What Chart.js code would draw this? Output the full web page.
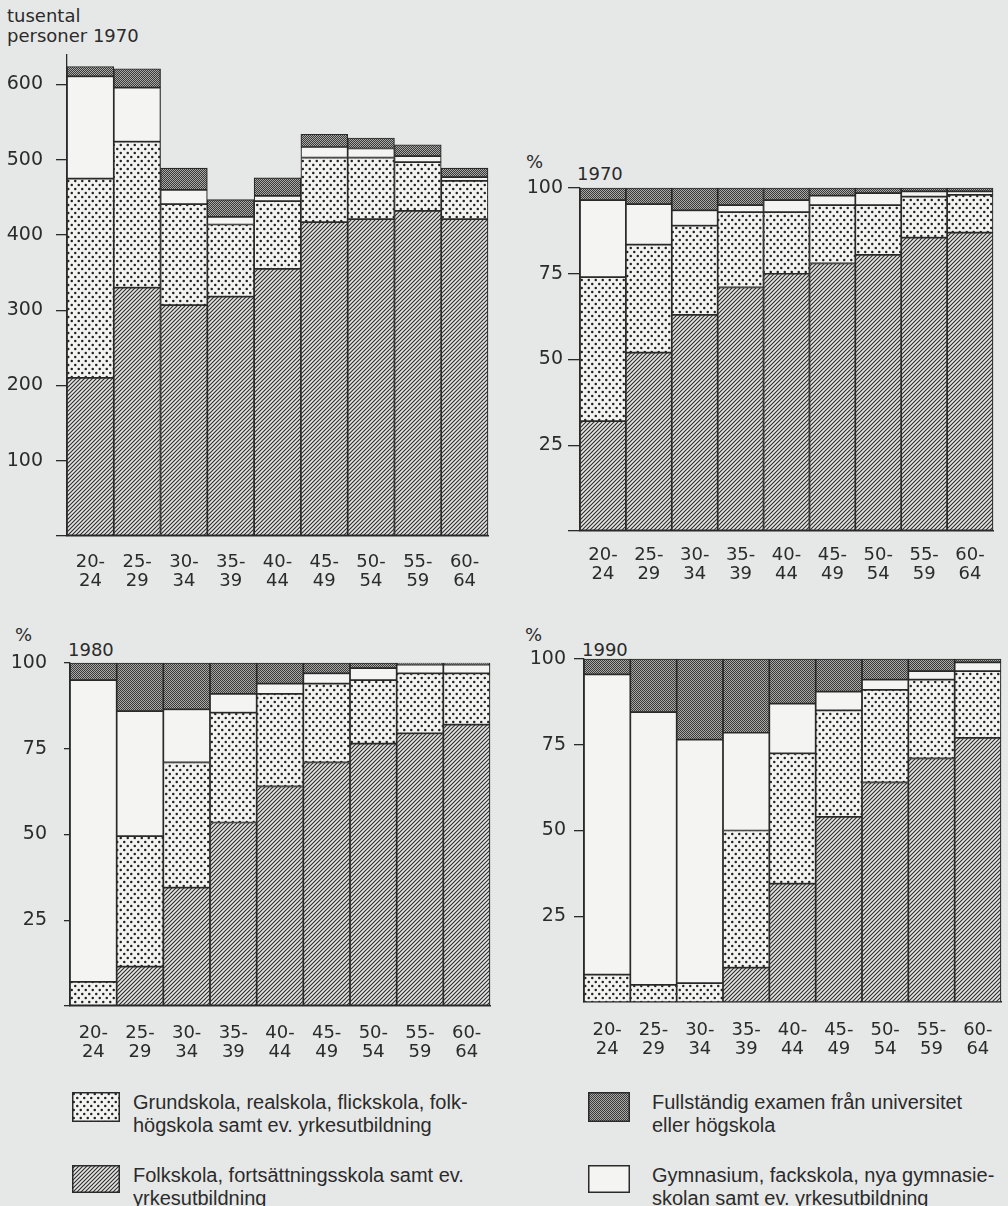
<!DOCTYPE html>
<html>
<head>
<meta charset="utf-8">
<script src="https://cdn.jsdelivr.net/npm/chart.js@4.4.1/dist/chart.umd.min.js"></script>
<style>
body { margin:0; background:#e6e8e7; width:1008px; height:1206px; position:relative; overflow:hidden;
       font-family:"DejaVu Sans", sans-serif; color:#2b2b2b; }
.box { position:absolute; }
.t { position:absolute; font-size:18px; line-height:20px; white-space:nowrap; }
.leg { position:absolute; font-family:"Liberation Sans", Arial, sans-serif; font-size:20px; line-height:23px; white-space:nowrap; }
.sw { position:absolute; }
</style>
</head>
<body>

<div class="t" style="left:7px;top:6px">tusental</div>
<div class="t" style="left:7px;top:26px">personer 1970</div>
<div class="t" style="left:526px;top:152px">%</div>
<div class="t" style="left:577px;top:164px">1970</div>
<div class="t" style="left:15px;top:625px">%</div>
<div class="t" style="left:68px;top:640px">1980</div>
<div class="t" style="left:525px;top:625px">%</div>
<div class="t" style="left:582px;top:640px">1990</div>

<div class="box" style="left:0;top:31px"><canvas id="c1" width="500" height="580"></canvas></div>
<div class="box" style="left:510px;top:150px"><canvas id="c2" width="498" height="450"></canvas></div>
<div class="box" style="left:0;top:620px"><canvas id="c3" width="500" height="440"></canvas></div>
<div class="box" style="left:510px;top:620px"><canvas id="c4" width="498" height="440"></canvas></div>

<canvas class="sw" id="s1" width="48" height="30" style="left:72px;top:1092px"></canvas>
<canvas class="sw" id="s2" width="48" height="28" style="left:72px;top:1165px"></canvas>
<canvas class="sw" id="s3" width="42" height="30" style="left:588px;top:1092px"></canvas>
<canvas class="sw" id="s4" width="42" height="28" style="left:588px;top:1165px"></canvas>
<div class="leg" style="left:133px;top:1091px">Grundskola, realskola, flickskola, folk-<br>högskola samt ev. yrkesutbildning</div>
<div class="leg" style="left:133px;top:1164px">Folkskola, fortsättningsskola samt ev.<br>yrkesutbildning</div>
<div class="leg" style="left:652px;top:1091px">Fullständig examen från universitet<br>eller högskola</div>
<div class="leg" style="left:652px;top:1164px">Gymnasium, fackskola, nya gymnasie-<br>skolan samt ev. yrkesutbildning</div>

<script>
const ageGroups = [['20-','24'],['25-','29'],['30-','34'],['35-','39'],['40-','44'],['45-','49'],['50-','54'],['55-','59'],['60-','64']];
const countTicks = [0, 100, 200, 300, 400, 500, 600];
const pctTicks = [0, 25, 50, 75, 100];

// 1970, tusental personer
const folk1970n  = [210, 330, 307, 318, 355, 417, 421, 432, 421];
const grund1970n = [265, 194, 134, 96, 90, 86, 82, 65, 51];
const gym1970n   = [136, 72, 19, 10, 7, 14, 12, 8, 5];
const univ1970n  = [13, 25, 29, 23, 24, 17, 14, 15, 12];

// 1970, procent
const folk1970  = [32, 52, 63, 71, 75, 78, 80.5, 85.5, 87];
const grund1970 = [42, 31.5, 26, 22, 18, 17, 14.5, 12, 11];
const gym1970   = [22.5, 11.8, 4.5, 2, 3.5, 2.8, 3.5, 1.5, 1];
const univ1970  = [3.5, 4.7, 6.5, 5, 3.5, 2.2, 1.5, 1, 1];

// 1980, procent
const folk1980  = [0, 11.5, 34.5, 53.5, 64, 71, 76.5, 79.5, 82];
const grund1980 = [7, 38, 36.5, 32, 27, 23, 18.5, 17.5, 15];
const gym1980   = [88, 36.5, 15.5, 5.5, 3, 3, 3.5, 2.5, 2.5];
const univ1980  = [5, 14, 13.5, 9, 6, 3, 1.5, 0.5, 0.5];

// 1990, procent
const folk1990  = [0, 0, 0, 10, 34.5, 54, 64, 71, 77];
const grund1990 = [8, 5, 5.5, 40, 38, 31, 27, 23, 19.5];
const gym1990   = [87.5, 79.5, 71, 28.5, 14.5, 5.5, 3, 2.5, 2.5];
const univ1990  = [4.5, 15.5, 23.5, 21.5, 13, 9.5, 6, 3.5, 1];

const ink = '#2a2a2a';

function tile(w, h, draw) {
    const c = document.createElement('canvas');
    c.width = w; c.height = h;
    draw(c.getContext('2d'));
    return c;
}

const tiles = {
    folk: tile(4, 4, g => {
        g.fillStyle = '#e4e5e3'; g.fillRect(0, 0, 4, 4);
        g.strokeStyle = '#2c2c2c'; g.lineWidth = 1.1;
        g.beginPath();
        g.moveTo(-1, 5); g.lineTo(5, -1);
        g.moveTo(-1, 1); g.lineTo(1, -1);
        g.moveTo(3, 5); g.lineTo(5, 3);
        g.stroke();
    }),
    grund: tile(7, 8, g => {
        g.fillStyle = '#f3f4f2'; g.fillRect(0, 0, 7, 8);
        g.fillStyle = '#222';
        g.beginPath(); g.arc(1.75, 2, 1.25, 0, Math.PI * 2); g.fill();
        g.beginPath(); g.arc(5.25, 6, 1.25, 0, Math.PI * 2); g.fill();
    }),
    gym: tile(2, 2, g => { g.fillStyle = '#f4f5f3'; g.fillRect(0, 0, 2, 2); }),
    univ: tile(2, 2, g => {
        g.fillStyle = '#a9a9a7'; g.fillRect(0, 0, 2, 2);
        g.fillStyle = '#3a3a3a'; g.fillRect(0, 0, 1, 1); g.fillRect(1, 1, 1, 1);
    })
};

function patterns(ctx) {
    return {
        folk: ctx.createPattern(tiles.folk, 'repeat'),
        grund: ctx.createPattern(tiles.grund, 'repeat'),
        gym: ctx.createPattern(tiles.gym, 'repeat'),
        univ: ctx.createPattern(tiles.univ, 'repeat')
    };
}

function makeChart(id, series, o) {
    const ctx = document.getElementById(id).getContext('2d');
    const p = patterns(ctx);
    const xfont = { family: 'DejaVu Sans', size: 18, lineHeight: 1.1 };
    const yfont = { family: 'DejaVu Sans', size: 19, lineHeight: 1.1 };
    const sets = [
        { label: 'Folkskola, fortsättningsskola samt ev. yrkesutbildning', data: series[0], backgroundColor: p.folk },
        { label: 'Grundskola, realskola, flickskola, folkhögskola samt ev. yrkesutbildning', data: series[1], backgroundColor: p.grund },
        { label: 'Gymnasium, fackskola, nya gymnasieskolan samt ev. yrkesutbildning', data: series[2], backgroundColor: p.gym },
        { label: 'Fullständig examen från universitet eller högskola', data: series[3], backgroundColor: p.univ }
    ].map(d => Object.assign(d, {
        borderColor: ink, borderWidth: 1.2, borderSkipped: false,
        categoryPercentage: 1, barPercentage: 1, clip: false
    }));

    return new Chart(ctx, {
        type: 'bar',
        data: { labels: ageGroups, datasets: sets },
        options: {
            responsive: false,
            animation: false,
            layout: { padding: { top: o.top, right: o.right, left: 0, bottom: 0 } },
            plugins: { legend: { display: false }, tooltip: { enabled: false } },
            scales: {
                x: {
                    stacked: true,
                    grid: { display: false },
                    border: { display: true, color: ink, width: 1.5 },
                    ticks: { font: xfont, color: '#2b2b2b', padding: o.xpad, maxRotation: 0, autoSkip: false },
                    afterFit: s => { s.height = o.xh; }
                },
                y: {
                    stacked: true,
                    bounds: 'data',
                    min: 0,
                    max: o.max,
                    grid: { drawOnChartArea: false, drawTicks: true, tickLength: o.tl, color: ink, lineWidth: 1.3 },
                    border: { display: true, color: ink, width: 1.3 },
                    ticks: { font: yfont, color: '#2b2b2b', padding: o.ypad, callback: v => v === 0 ? '' : v },
                    afterBuildTicks: s => { s.ticks = o.ticks.map(v => ({ value: v })); },
                    afterFit: s => { s.width = o.yw; }
                }
            }
        }
    });
}

makeChart('c1', [folk1970n, grund1970n, gym1970n, univ1970n],
    { max: 640, ticks: countTicks, top: 13, right: 12, yw: 67, xh: 75, tl: 11, ypad: 13, xpad: 8 });
makeChart('c2', [folk1970, grund1970, gym1970, univ1970],
    { max: 100, ticks: pctTicks, top: 38, right: 15, yw: 70, xh: 69, tl: 12, ypad: 5, xpad: 6 });
makeChart('c3', [folk1980, grund1980, gym1980, univ1980],
    { max: 100, ticks: pctTicks, top: 43, right: 10, yw: 70, xh: 54, tl: 6, ypad: 17, xpad: 9 });
makeChart('c4', [folk1990, grund1990, gym1990, univ1990],
    { max: 100, ticks: pctTicks.filter(v => v > 0), top: 39, right: 7, yw: 74, xh: 58, tl: 10, ypad: 8, xpad: 10 });

// legend swatches
[['s1', 'grund'], ['s2', 'folk'], ['s3', 'univ'], ['s4', 'gym']].forEach(([id, key]) => {
    const c = document.getElementById(id);
    const g = c.getContext('2d');
    g.fillStyle = g.createPattern(tiles[key], 'repeat');
    g.fillRect(0, 0, c.width, c.height);
    g.strokeStyle = ink; g.lineWidth = 1.5;
    g.strokeRect(0.75, 0.75, c.width - 1.5, c.height - 1.5);
});
</script>
</body>
</html>
